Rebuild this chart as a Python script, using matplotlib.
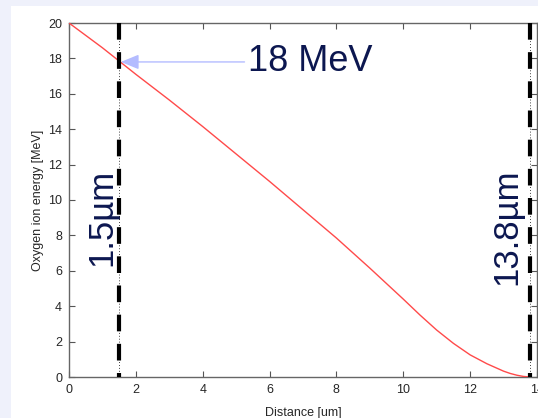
import matplotlib
matplotlib.use("Agg")
import matplotlib.pyplot as plt
from matplotlib.patches import Rectangle

# ion energy along the path
distance_um = [0, 1, 2, 3, 4, 5, 6, 7, 8, 9, 10, 10.5, 11, 11.5, 12,
               12.5, 13, 13.2, 13.4, 13.6, 13.8]
energy_mev = [20, 18.6, 17.1, 15.65, 14.15, 12.6, 11.05, 9.45, 7.85, 6.15, 4.4,
              3.5, 2.65, 1.9, 1.25, 0.75, 0.33, 0.2, 0.1, 0.03, 0]
marker_x = [1.5, 13.8]
marker_labels = ["1.5\u00b5m", "13.8\u00b5m"]
marker_label_pos = [(0.98, 9.0), (13.1, 8.5)]
arrow_tip = (1.55, 17.8)
arrow_tail = (5.25, 17.8)
arrow_text = "18 MeV"
xticks = list(range(0, 16, 2))
yticks = list(range(0, 22, 2))

plt.rcParams["font.family"] = ["Liberation Sans", "DejaVu Sans"]
navy = "#0c1750"

fig = plt.figure(figsize=(5.38, 4.18), dpi=100)
fig.patch.set_facecolor("#eff1fb")
fig.patches.append(Rectangle((11 / 538, 0), 1, 1 - 6 / 418, transform=fig.transFigure,
                             facecolor="white", edgecolor="none", zorder=-1))

ax = fig.add_axes([69 / 538, 1 - 377 / 418, 468 / 538, 354 / 418])
ax.set_facecolor("white")
ax.plot(distance_um, energy_mev, color="#ff4a4a", lw=1.0, zorder=3)

for xv in marker_x:
    ax.plot([xv, xv], [0, 20], color="black", lw=0.6, ls=(0, (1, 2.5)), zorder=4)
    ax.plot([xv, xv], [20, 0], color="black", lw=3.0, dashes=(4, 3), zorder=4,
            solid_capstyle="butt", dash_capstyle="butt")

for (tx, ty), lab in zip(marker_label_pos, marker_labels):
    ax.text(tx, ty, lab, rotation=90, ha="center", va="center", fontsize=25, color=navy)

ax.annotate("", xy=arrow_tip, xytext=arrow_tail,
            arrowprops=dict(arrowstyle="-|>,head_length=1.1,head_width=0.45",
                            color="#b4bcff", lw=1.0, shrinkA=0, shrinkB=0), zorder=5)
ax.text(arrow_tail[0] + 0.1, arrow_tail[1], arrow_text, ha="left", va="center",
        fontsize=26, color=navy)

ax.set_xlim(0, 14)
ax.set_ylim(0, 20)
ax.set_xticks(xticks)
ax.set_yticks(yticks)
ax.tick_params(direction="in", length=4, width=0.8, colors="#555555", labelcolor="#262626",
               labelsize=9, top=True, right=True, pad=5)
for s in ax.spines.values():
    s.set_color("#666666")
    s.set_linewidth(1.0)
ax.set_xlabel("Distance [um]", fontsize=9, color="#262626", labelpad=8)
ax.set_ylabel("Oxygen ion energy [MeV]", fontsize=9, color="#262626", labelpad=3)

fig.savefig("out.png", dpi=100, facecolor=fig.get_facecolor())
